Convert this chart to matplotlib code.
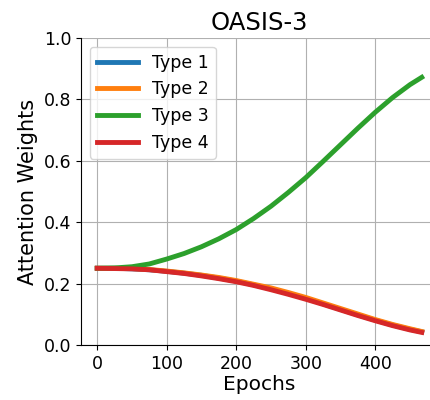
import matplotlib
matplotlib.use('Agg')
import matplotlib.pyplot as plt
import numpy as np

epochs = [0, 25, 50, 75, 100, 125, 150, 175, 200, 225, 250, 275, 300, 325, 350, 375, 400, 425, 450, 467]
type1 = [.250, .250, .248, .245, .240, .234, .227, .218, .208, .196, .183, .168, .152, .134, .116, .098, .081, .065, .051, .043]
type2 = [.250, .250, .249, .246, .241, .235, .228, .220, .210, .198, .186, .171, .155, .137, .119, .101, .083, .067, .053, .044]
type3 = [.250, .251, .255, .264, .280, .298, .320, .346, .376, .412, .452, .497, .545, .598, .652, .706, .758, .806, .848, .872]
type4 = [.250, .249, .248, .245, .239, .233, .225, .216, .206, .194, .180, .165, .149, .132, .114, .096, .079, .063, .049, .041]

labels = ['Type 1', 'Type 2', 'Type 3', 'Type 4']
colors = ['#1f77b4', '#ff7f0e', '#2ca02c', '#d62728']

fig = plt.figure(figsize=(4.31, 4.0), dpi=100)
ax = fig.add_axes([81 / 431, 55 / 400, 357 / 431, 307 / 400])
for ys, lab, c in zip([type1, type2, type3, type4], labels, colors):
    ax.plot(epochs, ys, color=c, lw=3.5, label=lab)

ax.set_ylim(0, 1)
ax.set_title('OASIS-3', fontsize=17.5)
ax.set_xlabel('Epochs', fontsize=14.5, labelpad=2)
ax.set_ylabel('Attention Weights', fontsize=15)
ax.tick_params(labelsize=12.5)
ax.grid(True)
ax.spines['top'].set_visible(False)
ax.spines['right'].set_visible(False)
ax.legend(loc='upper left', fontsize=12.5, handlelength=2.4)

plt.savefig('out.png')
